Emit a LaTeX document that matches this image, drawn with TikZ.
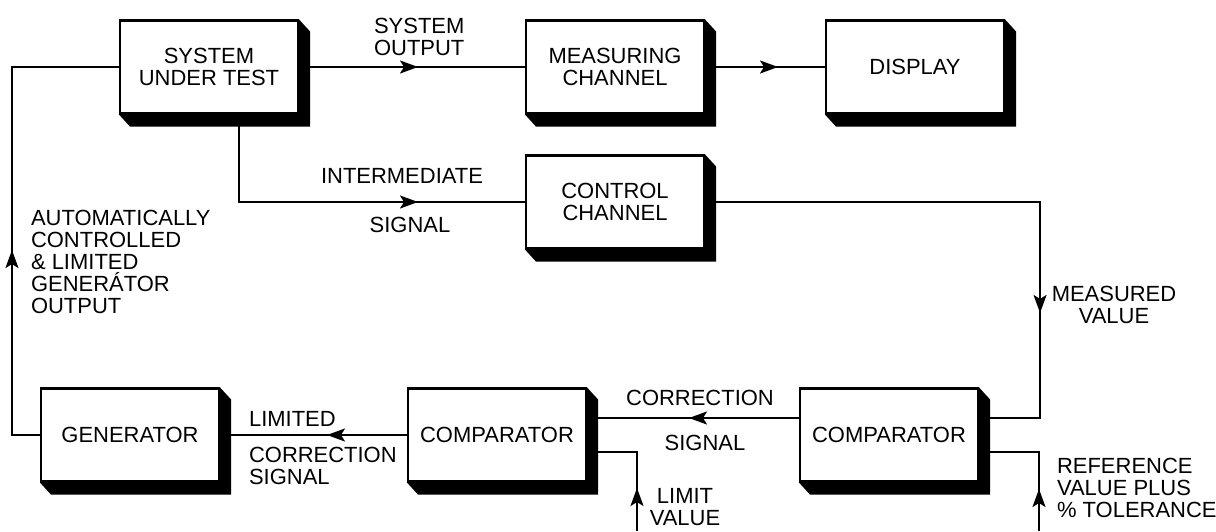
\documentclass[tikz,border=0pt]{standalone}
\usepackage{fontspec}
\setmainfont{Liberation Sans}
\usetikzlibrary{arrows.meta,decorations.markings,calc}

\begin{document}
\begin{tikzpicture}[x=0.02cm,y=-0.02cm,line width=1.2pt,
  every node/.style={font=\fontsize{12.5}{12.5}\selectfont,inner sep=0pt},
  box/.style={draw,fill=white,minimum width=3.56cm,minimum height=1.86cm,align=center},
  >={Stealth[length=0.36cm,width=0.26cm,inset=0.08cm]},
  flow/.style={postaction={decorate},decoration={markings,mark=at position #1 with {\arrow{>}}}}]
  \useasboundingbox (0,0) rectangle (1216,531);
  \node[box] (sut) at (209,67) {SYSTEM\\UNDER TEST};
  \node[box] (meas) at (615,67) {MEASURING\\CHANNEL};
  \node[box] (disp) at (915,67) {DISPLAY};
  \node[box] (ctrl) at (615,202) {CONTROL\\CHANNEL};
  \node[box] (gen) at (130,435) {GENERATOR};
  \node[box] (cmpL) at (497,435) {COMPARATOR};
  \node[box] (cmpR) at (889,435) {COMPARATOR};
  \foreach \b in {sut,meas,disp,ctrl,gen,cmpL,cmpR}
    \fill (\b.north east) -- ++(11,12) -- ($(\b.south east)+(11,12)$) -- ($(\b.south west)+(11,12)$)
      -- (\b.south west) -- (\b.south east) -- cycle;
  \coordinate (limit) at (637,531);
  \coordinate (ref) at (1039,531);
  \draw[flow=2.38cm] (sut.east) -- (meas.west);
  \draw[flow=1.46cm] (meas.east) -- (disp.west);
  \draw[flow=5.33cm] ($(sut.south)+(30,0)$) |- (ctrl.west);
  \draw[flow=8.92cm] (ctrl.east) -| ($(cmpR.east)+(61,-17)$) -- ($(cmpR.east)+(0,-17)$);
  \draw[flow=2.2cm] ($(cmpR.west)+(0,-17)$) -- ($(cmpL.east)+(0,-17)$);
  \draw[flow=1.6cm] (cmpL.west) -- (gen.east);
  \draw[flow=4.26cm] (gen.west) -- ++(-28,0) |- (sut.west);
  \draw[flow=0.86cm] (limit) |- ($(cmpL.east)+(0,17)$);
  \draw[flow=0.84cm] (ref) |- ($(cmpR.east)+(0,17)$);
  \node[anchor=west,align=left] (outlbl) at (373,37) {SYSTEM\\OUTPUT};
  \node (intlbl) at (402,176) {INTERMEDIATE};
  \node (siglbl) at (410,225) {SIGNAL};
  \node[anchor=west,align=left] (genlbl) at (30,262) {AUTOMATICALLY\\CONTROLLED\\\& LIMITED\\GENERÁTOR\\OUTPUT};
  \node[anchor=west] (limlbl) at (248,419) {LIMITED};
  \node[anchor=west,align=left] (limsiglbl) at (248,466) {CORRECTION\\SIGNAL};
  \node (corlbl) at (700,398) {CORRECTION};
  \node (corsiglbl) at (705,443) {SIGNAL};
  \node[align=center] (limvallbl) at (685,507) {LIMIT\\VALUE};
  \node[align=center] (mvlbl) at (1114,305) {MEASURED\\VALUE};
  \node[anchor=west,align=left] (reflbl) at (1056,488) {REFERENCE\\VALUE PLUS\\\% TOLERANCE};
\end{tikzpicture}
\end{document}
